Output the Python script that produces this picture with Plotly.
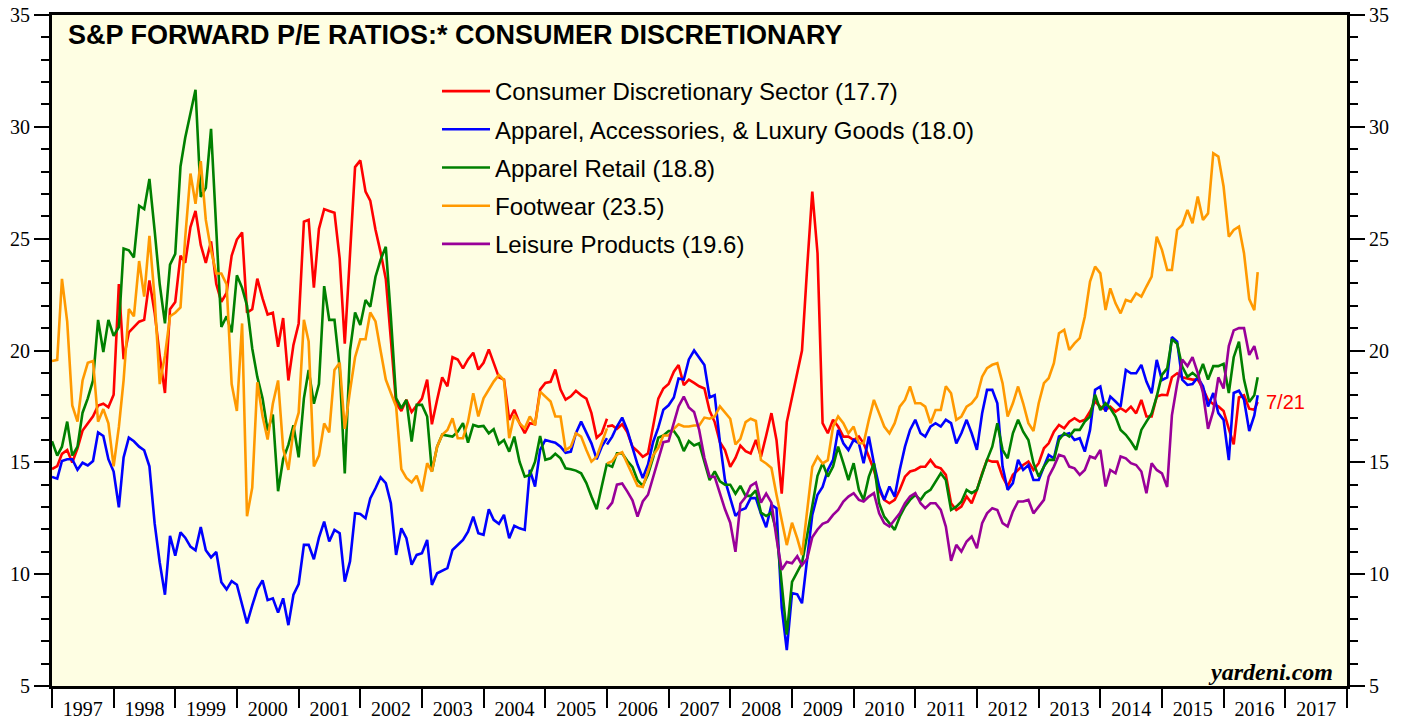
import pandas as pd
import plotly.graph_objects as go

# ---------------- data ----------------
monthly_dates = pd.date_range("1997-01-01", periods=109, freq="MS")
weekly_dates = list(pd.date_range("2006-01-01", periods=127, freq="MS")) + [pd.Timestamp("2016-07-21")]

cd_monthly = [14.70, 14.83, 15.38, 15.55, 14.99, 15.63, 16.42, 16.74, 17.06, 17.54,
              17.62, 17.46, 18.02, 22.97, 19.61, 20.81, 21.05, 21.29, 21.37, 23.13,
              21.69, 19.77, 18.10, 21.85, 22.17, 24.24, 23.92, 25.52, 26.24, 24.72,
              23.92, 24.88, 22.97, 22.17, 22.57, 24.24, 24.96, 25.28, 21.69, 21.85,
              23.21, 22.33, 21.61, 21.69, 20.17, 21.45, 18.66, 20.25, 21.21, 25.76,
              25.84, 22.81, 25.44, 26.32, 26.24, 26.16,
              24.1, 20.3, 24.3, 28.2, 28.5, 27.1, 26.7, 25.4, 24.4, 23.2,
              20.5, 17.64, 17.3, 17.8, 17.25, 17.55, 17.85, 18.7, 16.7, 17.8,
              18.8, 18.4, 19.7, 19.6, 19.2, 19.6, 19.9, 19.15, 19.45, 20.05,
              19.45, 18.8, 18.7, 16.9, 17.35, 16.75, 16.3, 16.75, 16.7, 18.25,
              18.55, 18.6, 19.15, 18.25, 17.8, 17.95, 18.2, 18.0, 17.85, 17.2,
              16.1, 16.3, 16.95]

apparel_monthly = [14.35, 14.27, 15.06, 15.14, 15.14, 14.67, 14.98, 14.86, 15.06, 16.34,
                   16.18, 15.14, 14.59, 12.99, 15.22, 16.10, 15.94, 15.70, 15.54, 14.82,
                   12.27, 10.52, 9.08, 11.71, 10.83, 11.87, 11.63, 11.23, 11.07, 12.11,
                   11.07, 10.75, 10.99, 9.64, 9.32, 9.69, 9.53, 8.60, 7.80, 8.60,
                   9.32, 9.72, 8.84, 8.92, 8.28, 8.92, 7.72, 9.08, 9.56, 11.31,
                   11.31, 10.67, 11.63, 12.35,
                   11.46, 11.98, 11.83, 9.67, 10.57, 12.72, 12.69, 12.50, 13.39, 13.84,
                   14.33, 14.07, 13.17, 10.86, 12.05, 11.61, 10.42, 10.86, 10.94, 11.53,
                   9.52, 10.04, 10.16, 10.27, 11.08, 11.31, 11.53, 11.90, 12.57, 11.83,
                   11.76, 12.90, 12.43, 12.25, 12.65, 11.61, 12.16, 12.05, 11.98, 14.66,
                   13.92, 15.56, 16.00, 15.93, 15.88, 15.70, 15.43, 15.48, 16.30, 16.82,
                   16.30, 15.85, 15.14, 15.70, 16.08]

retail_monthly = [15.94, 15.30, 15.70, 16.82, 15.30, 15.70, 17.22, 17.86, 18.66, 21.37,
                  19.93, 21.37, 20.65, 21.05, 24.56, 24.48, 24.16, 26.47, 26.32, 27.67,
                  25.36, 22.96, 21.21, 23.84, 24.32, 28.23, 29.51, 30.62, 31.66, 26.87,
                  27.27, 29.91, 25.52, 21.05, 21.53, 20.81, 23.36, 22.80, 22.01, 20.09,
                  18.82, 17.86, 16.42, 17.14, 13.71, 15.14, 15.78, 16.66, 15.22, 17.86,
                  19.13, 17.62, 18.50, 22.88, 21.37, 21.37, 19.2,
                  14.5, 20.0, 21.7, 21.14, 22.26, 21.96, 23.30, 24.05, 24.64, 21.5,
                  17.87, 17.42, 17.79, 15.93, 17.57, 17.57, 17.05, 14.59, 15.7, 16.23,
                  16.18, 16.15, 16.37, 16.75, 15.88, 16.67, 16.6, 16.63, 16.3, 16.48,
                  15.82, 16.0, 15.48, 16.15, 15.03, 14.36, 14.44, 15.03, 16.18, 15.11,
                  15.18, 15.38, 15.18, 14.73, 14.69, 14.63, 14.51, 14.07, 13.47, 12.9,
                  13.92, 14.96]

footwear_monthly = [19.53, 19.58, 23.20, 21.29, 17.54, 16.82, 18.66, 19.45, 19.53, 16.82,
                    17.38, 16.74, 14.82, 16.58, 18.66, 21.85, 21.53, 24.00, 22.41, 25.12,
                    22.33, 18.50, 19.77, 21.53, 21.69, 21.93, 25.04, 27.91, 26.56, 28.47,
                    25.84, 24.48, 23.44, 23.44, 22.96, 18.50, 17.30, 21.21, 12.59, 13.87,
                    18.58, 17.06, 16.02, 17.62, 18.66, 15.62, 14.66, 16.42, 17.22, 21.37,
                    20.41, 14.82, 15.30, 16.74, 16.34, 19.13, 19.45,
                    16.5, 18.2, 19.7, 20.5, 20.5, 21.7, 21.3, 20.0, 18.7, 18.1,
                    17.5, 14.7, 14.3, 14.1, 14.4, 13.7, 14.96, 14.59, 15.7, 16.23,
                    16.45, 16.97, 16.08, 16.08, 16.82, 18.09, 17.05, 17.86, 18.24, 18.61,
                    18.91, 18.68, 16.08, 17.12, 16.75, 16.52, 17.05, 16.67, 18.16, 17.94,
                    17.72, 17.05, 17.05, 15.55, 15.7, 16.3, 16.15, 15.55, 15.03, 15.25,
                    15.85, 16.52]

cd_weekly = [16.6, 16.65, 16.5, 16.7, 16.35, 15.7, 15.5, 15.25, 15.4, 16.6,
             17.85, 18.3, 18.5, 19.05, 19.35, 18.45, 18.7, 18.55, 18.4, 18.3,
             17.3, 16.8, 15.9, 15.55, 14.8, 15.2, 15.75, 15.5, 15.4, 16.0,
             15.25, 16.2, 17.2, 16.0, 13.6, 16.8, 17.9, 19.0, 20.0,
             23.75, 27.1, 24.35, 16.75, 16.3, 16.9, 16.6, 16.15, 16.15, 16.0,
             16.15, 15.85, 15.25, 14.66, 13.77, 13.32, 13.17, 13.32, 13.77, 14.36,
             14.59, 14.66, 14.8, 14.8,
             15.11, 14.81, 14.73, 14.44, 13.17, 12.87, 13.02, 13.47, 13.17, 13.77,
             14.51, 15.11, 15.03, 15.03, 14.36, 13.92, 14.44, 14.66, 14.88, 15.03,
             14.66, 14.96, 15.63, 15.85, 16.37, 16.67, 16.52, 16.82, 16.97, 16.82,
             16.9, 17.27, 17.72, 17.49, 17.34, 17.49, 17.27, 17.42, 17.27, 17.49,
             17.19, 17.79, 17.05, 17.05, 17.94, 18.02,
             18.0, 18.8, 18.98, 18.8, 18.76, 18.7, 18.7, 18.3, 17.8, 17.6,
             17.5, 17.3, 16.5, 15.8, 17.9, 18.0, 17.4, 17.35, 17.7]

apparel_weekly = [15.8, 16.15, 16.6, 17.0, 16.45, 15.65, 14.9, 14.3, 14.9, 15.9,
                  16.55, 17.35, 17.55, 17.9, 18.75, 18.7, 19.6, 20.0, 19.7, 19.35,
                  17.9, 18.0, 15.9, 14.2, 13.4, 12.6, 12.85, 12.95, 13.4, 13.4,
                  12.7, 12.1, 13.1, 12.95, 8.5, 6.6, 9.15, 9.1, 8.7, 10.6,
                  12.65, 13.55, 13.9, 14.66,
                  15.11, 16.45, 15.85, 15.55, 16.0, 15.85, 14.96, 16.15, 14.96, 13.92,
                  13.32, 13.92, 13.47, 14.66, 15.7, 16.45, 16.9, 16.3, 16.15,
                  16.6, 16.75, 16.6, 16.9, 16.75, 15.85, 16.3, 16.9, 16.3, 15.56,
                  17.19, 18.24, 18.24, 17.64, 14.81, 13.77, 14.07, 15.11, 14.66, 14.88,
                  14.21, 14.21, 14.81, 15.33, 15.18, 16.15, 16.23, 16.3, 16.0, 16.08,
                  15.48, 16.45, 18.24, 18.39, 17.27, 17.94, 17.72, 17.49, 19.13, 18.98,
                  18.98, 19.36, 18.61, 18.09, 19.58, 18.68,
                  18.8, 20.6, 20.4, 18.7, 18.46, 18.5, 18.8, 18.4, 17.5, 18.1,
                  17.2, 16.9, 15.1, 18.1, 18.2, 17.8, 16.4, 17.1, 18.0]

retail_weekly = [14.9, 14.8, 15.4, 15.4, 15.07, 14.8, 14.2, 13.95, 14.45, 15.2,
                 16.1, 16.2, 16.4, 16.4, 16.1, 15.5, 15.95, 15.75, 15.85, 15.0,
                 14.2, 14.6, 14.15, 14.0, 14.0, 13.6, 13.95, 13.5, 13.5, 13.75,
                 12.75, 12.6, 12.75, 11.9, 9.4, 7.3, 9.65, 10.1, 10.5, 11.75,
                 13.0, 14.4,
                 14.96, 14.36, 14.81, 15.7, 14.96, 14.21, 14.96, 13.77, 13.32, 14.36,
                 14.96, 13.17, 12.57, 12.28, 11.98, 12.57, 13.02, 13.32, 13.54, 13.32,
                 13.62,
                 13.77, 14.14, 14.51, 14.21, 12.87, 13.02, 13.24, 13.77, 13.62, 13.77,
                 14.51, 15.11, 15.7, 16.75, 15.56, 15.18, 16.3, 16.9, 16.37, 16.0,
                 14.96, 14.36, 14.81, 15.11, 15.11, 16.0, 16.3, 16.15, 16.45, 16.45,
                 16.82, 17.05, 18.02, 17.34, 17.64, 17.42, 17.05, 16.45, 16.23, 15.93,
                 15.56, 16.45, 16.82, 17.19, 17.94, 18.91,
                 19.2, 20.5, 20.3, 19.28, 18.83, 19.0, 18.8, 19.4, 18.7, 19.3,
                 19.3, 19.4, 18.1, 19.7, 20.4, 18.7, 17.7, 18.0, 18.8]

footwear_weekly = [14.95, 15.05, 15.35, 15.45, 14.95, 14.45, 13.95, 13.9, 14.65, 15.3,
                   15.65, 16.2, 16.2, 16.5, 16.7, 16.6, 16.6, 16.65, 16.65, 17.0,
                   16.95, 17.05, 17.5, 17.25, 16.95, 15.8, 16.05, 16.8, 16.95, 16.85,
                   15.1, 14.95, 14.75, 13.55, 12.35, 11.3, 12.3, 11.6, 10.85, 13.0,
                   14.8, 15.25, 14.95, 15.1, 16.6,
                   17.05, 16.75, 16.3, 16.6, 15.85, 15.85, 16.9, 17.79, 17.19, 16.6,
                   16.3, 16.75, 17.49, 17.79, 18.39, 17.64, 17.64, 17.49,
                   16.75, 17.34, 17.34, 18.4, 18.09, 16.9, 17.05, 17.49, 17.64, 17.94,
                   18.83, 19.21, 19.36, 19.43, 18.54, 17.05, 17.64, 18.39, 17.64, 16.75,
                   16.4, 17.64, 18.54, 18.76, 19.43, 20.77, 20.92, 20.02, 20.32, 20.55,
                   21.51, 23.08, 23.75, 23.45, 21.81, 22.78, 22.11, 21.66, 22.26, 22.18,
                   22.56, 22.41, 22.86, 23.3, 25.09, 24.5, 23.6, 23.6, 25.39, 25.61,
                   26.28, 25.69, 26.88, 25.84, 26.13, 28.82, 28.67, 27.33, 25.09, 25.39,
                   25.54, 24.35, 22.3, 21.8, 23.5]

leisure_weekly = [12.9, 13.2, 14.0, 14.05, 13.7, 13.3, 12.57, 13.25, 13.55, 14.3,
                  15.1, 15.9, 15.95, 16.75, 17.5, 17.94, 17.45, 17.25, 16.45, 15.2,
                  14.36, 14.35, 13.6, 12.9, 12.3, 11.0, 13.15, 13.45, 13.95, 14.1,
                  13.2, 13.6, 13.2, 11.6, 10.2, 10.55, 10.49, 10.8, 10.4, 10.7,
                  11.65, 12.0, 12.25, 12.35, 12.65,
                  12.87, 13.25, 13.47, 13.62, 13.32, 13.25, 13.47, 13.62, 12.72, 12.28,
                  12.13, 12.43, 12.72, 13.17, 13.47, 13.62, 13.17, 12.95,
                  13.17, 13.17, 12.87, 12.13, 10.6, 11.31, 11.01, 11.46, 11.68, 11.16,
                  12.28, 12.72, 12.95, 12.87, 12.28, 12.13, 12.8, 13.25, 13.25, 13.32,
                  12.72, 13.02, 13.32, 14.36, 14.81, 15.33, 15.26, 14.81, 14.73, 14.44,
                  14.66, 15.26, 15.18, 15.56, 13.92, 14.66, 14.51, 15.26, 15.18, 14.96,
                  14.88, 14.59, 13.62, 14.96, 14.66, 14.51,
                  13.9, 17.1, 18.5, 19.6, 19.3, 19.7, 19.0, 18.1, 16.5, 17.3,
                  18.8, 18.3, 20.2, 20.9, 21.0, 21.0, 19.8, 20.2, 19.6]

series_names = ["Consumer Discretionary Sector (17.7)",
                "Apparel, Accessories, & Luxury Goods (18.0)",
                "Apparel Retail (18.8)",
                "Footwear (23.5)",
                "Leisure Products (19.6)"]
series_colors = ["#ff0000", "#0000ff", "#008000", "#ff9900", "#990099"]
early_values = [cd_monthly, apparel_monthly, retail_monthly, footwear_monthly, None]
late_values = [cd_weekly, apparel_weekly, retail_weekly, footwear_weekly, leisure_weekly]

# ---------------- figure ----------------
fig = go.Figure()
for i, name in enumerate(series_names):
    grp = f"g{i}"
    if early_values[i] is not None:
        fig.add_trace(go.Scatter(x=monthly_dates, y=early_values[i], mode="lines",
                                 line=dict(color=series_colors[i], width=2.6),
                                 legendgroup=grp, showlegend=False, name=name))
    fig.add_trace(go.Scatter(x=weekly_dates, y=late_values[i], mode="lines",
                             line=dict(color=series_colors[i], width=2.6),
                             legendgroup=grp, showlegend=True, name=name))

# invisible trace to make the right-hand axis render
fig.add_trace(go.Scatter(x=[weekly_dates[-1]], y=[20], yaxis="y2", mode="markers",
                         marker=dict(opacity=0), showlegend=False, hoverinfo="skip"))

serif = "Times New Roman, Liberation Serif, serif"
sans = "Arial, Liberation Sans, Helvetica, sans-serif"

yaxis_common = dict(range=[5, 35], dtick=5, tick0=5, ticks="outside", ticklen=15,
                    tickwidth=2, tickcolor="black", automargin=False,
                    minor=dict(dtick=1, ticks="outside", ticklen=8, tickwidth=1.5, tickcolor="black"),
                    showline=True, linewidth=3, linecolor="black", showgrid=False,
                    zeroline=False, tickfont=dict(family=serif, size=20, color="black"))

fig.update_layout(
    width=1407, height=719,
    margin=dict(l=52, r=60, t=15, b=33, autoexpand=False),
    paper_bgcolor="white",
    plot_bgcolor="#fefee3",
    showlegend=True,
    legend=dict(x=0.2973, y=0.9195, xanchor="left", yanchor="top",
                bgcolor="rgba(0,0,0,0)", borderwidth=0,
                font=dict(family=sans, size=24, color="black"),
                tracegroupgap=4, itemwidth=48, traceorder="grouped"),
    xaxis=dict(type="date", range=["1997-01-01", "2018-01-01"], dtick="M12",
               tick0="1997-01-01", tickformat="%Y", ticklabelmode="period",
               ticks="outside", ticklen=19, tickwidth=2, tickcolor="black",
               showline=True, linewidth=3, linecolor="black", mirror=True,
               showgrid=False, zeroline=False, ticklabelstandoff=-16, automargin=False,
               tickfont=dict(family=serif, size=20, color="black")),
    yaxis=yaxis_common,
    yaxis2=dict(overlaying="y", side="right", anchor="x", **yaxis_common),
    annotations=[
        dict(text="<b>S&P FORWARD P/E RATIOS:* CONSUMER DISCRETIONARY</b>",
             xref="paper", yref="paper", x=0.0105, y=0.970, xanchor="left", yanchor="middle",
             showarrow=False, font=dict(family=sans, size=27, color="black")),
        dict(text="7/21", x=weekly_dates[-1], y=17.7, xref="x", yref="y",
             xanchor="left", yanchor="middle", xshift=6, showarrow=False,
             font=dict(family=sans, size=20, color="#ff0000")),
        dict(text="<b><i>yardeni.com</i></b>", xref="paper", yref="paper",
             x=0.991, y=0.021, xanchor="right", yanchor="middle", showarrow=False,
             font=dict(family=serif, size=24, color="black")),
    ],
)

fig.write_html("out.html", config={"displayModeBar": False},
               post_script="document.body.style.margin='0px';document.body.style.overflow='hidden';")
